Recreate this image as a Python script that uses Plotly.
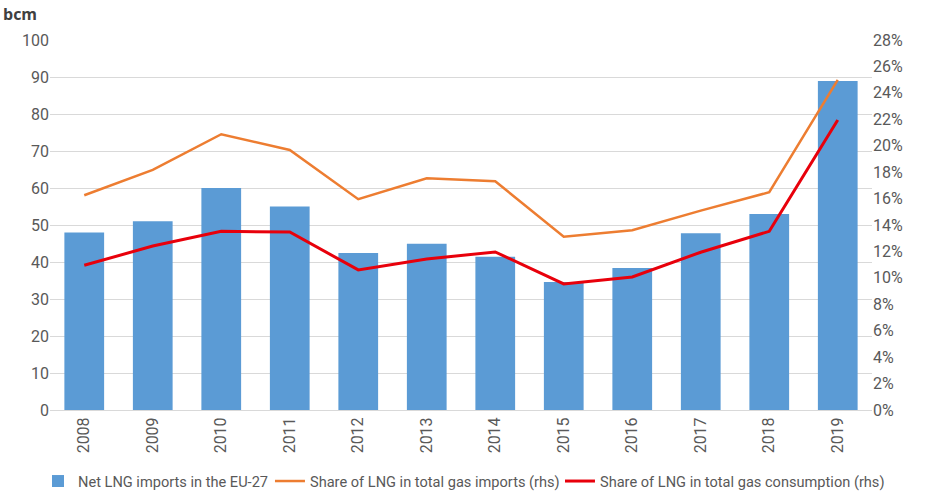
import plotly.graph_objects as go

years = ["2008", "2009", "2010", "2011", "2012", "2013", "2014", "2015", "2016", "2017", "2018", "2019"]
net_lng_imports = [48.0, 51.0, 60.0, 55.0, 42.4, 44.9, 41.4, 34.6, 38.4, 47.8, 53.0, 88.9]
share_imports = [0.1625, 0.1817, 0.2087, 0.1968, 0.1595, 0.1754, 0.1731, 0.1312, 0.1360, 0.1509, 0.1648, 0.2498]
share_consumption = [0.1095, 0.1241, 0.1352, 0.1347, 0.1060, 0.1143, 0.1196, 0.0954, 0.1007, 0.1194, 0.1352, 0.2195]

left_ticks = list(range(0, 101, 10))
right_ticks = [i / 100 for i in range(0, 29, 2)]

FONT = "Roboto, Open Sans, sans-serif"
TICK_COLOR = "#595959"

fig = go.Figure()
fig.add_trace(go.Bar(x=years, y=net_lng_imports, name="Net LNG imports in the EU-27",
                     marker=dict(color="#5B9BD5", line=dict(width=0)), legend="legend"))
fig.add_trace(go.Scatter(x=years, y=share_imports, name="Share of LNG in total gas imports (rhs)",
                         mode="lines", line=dict(color="#ED7D31", width=2.5), yaxis="y2",
                         legend="legend2"))
fig.add_trace(go.Scatter(x=years, y=share_consumption, name="Share of LNG in total gas consumption (rhs)",
                         mode="lines", line=dict(color="#E8000B", width=3), yaxis="y2",
                         legend="legend3"))

legend_common = dict(orientation="h", xanchor="left", xref="paper", y=-0.192, yanchor="middle",
                     yref="paper", font=dict(size=14.6, color=TICK_COLOR), itemwidth=30,
                     bgcolor="rgba(0,0,0,0)")

fig.update_layout(
    width=927, height=499,
    margin=dict(l=50, r=55, t=40, b=89, autoexpand=False),
    paper_bgcolor="white", plot_bgcolor="white",
    font=dict(family=FONT, color=TICK_COLOR, size=16),
    bargap=0.42,
    showlegend=True,
    legend=dict(x=-0.0146, **legend_common),
    legend2=dict(x=0.2676, **legend_common),
    legend3=dict(x=0.6204, **legend_common),
    xaxis=dict(type="category", tickangle=-90, showgrid=False, showline=True, automargin=False,
               linecolor="#D9D9D9", linewidth=1, ticks="", tickfont=dict(size=16, color=TICK_COLOR)),
    yaxis=dict(range=[0, 100], tickvals=left_ticks, showgrid=True, gridcolor="#D9D9D9",
               gridwidth=1, zeroline=False, showline=False, ticks="", automargin=False,
               tickfont=dict(size=16, color=TICK_COLOR)),
    yaxis2=dict(range=[0, 0.28], tickvals=right_ticks, tickformat=".0%", overlaying="y",
                side="right", showgrid=False, zeroline=False, showline=False, ticks="",
                automargin=False, tickfont=dict(size=16, color=TICK_COLOR)),
    annotations=[dict(text="<b>bcm</b>", xref="paper", yref="paper", x=-0.06, y=1.07,
                      xanchor="left", yanchor="middle", showarrow=False,
                      font=dict(size=16, color="#404040", family="Open Sans, sans-serif"))],
)

fig.write_html("out.html", config={"displayModeBar": False},
               post_script="document.body.style.margin='0';document.body.style.overflow='hidden';")
